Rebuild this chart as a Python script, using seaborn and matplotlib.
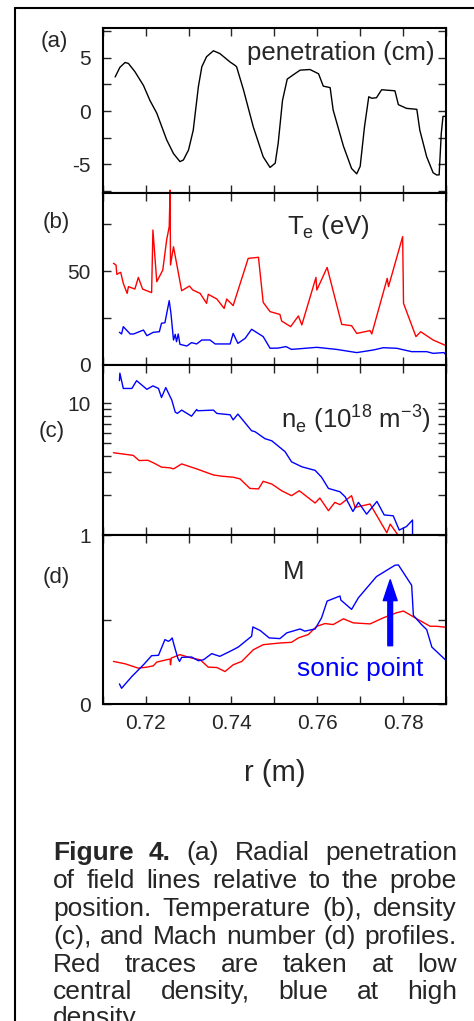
import numpy as np
import pandas as pd
import matplotlib
matplotlib.use('Agg')
import matplotlib.pyplot as plt
import seaborn as sns
from matplotlib.lines import Line2D
from matplotlib.ticker import MultipleLocator, LogLocator, NullFormatter

# ---- data ----
# (a) field line penetration (cm)
pen_r = [0.7129, 0.7140, 0.7152, 0.7160, 0.7175, 0.7195, 0.7210, 0.7226, 0.7249, 0.7265,
         0.7280, 0.7288, 0.7300, 0.7311, 0.7323, 0.7331, 0.7342, 0.7358, 0.7373, 0.7397,
         0.7408, 0.7412, 0.7428, 0.7451, 0.7474, 0.7490, 0.7502, 0.7509, 0.7519, 0.7530,
         0.7544, 0.7560, 0.7583, 0.7603, 0.7614, 0.7630, 0.7637, 0.7661, 0.7680, 0.7692,
         0.7700, 0.7710, 0.7720, 0.7727, 0.7738, 0.7750, 0.7781, 0.7789, 0.7808, 0.7832,
         0.7839, 0.7855, 0.7870, 0.7878, 0.7884, 0.7889, 0.7893, 0.7900]
pen_cm = [3.2, 4.1, 4.56, 4.47, 3.7, 2.4, 1.0, -0.2, -2.7, -4.0,
          -4.75, -4.6, -3.66, -1.8, 2.3, 4.16, 5.1, 5.66, 5.4, 4.6,
          4.3, 4.16, 2.0, -1.5, -4.3, -5.3, -4.9, -3.0, 1.0, 3.0,
          3.4, 3.84, 3.9, 3.5, 2.34, 2.2, 0.1, -3.3, -5.4, -5.9,
          -5.2, -1.5, 1.34, 1.2, 1.25, 2.0, 1.9, 0.6, 0.25, 0.16,
          -1.8, -4.3, -5.8, -6.0, -6.0, -2.1, -0.5, -0.5]

# (b) electron temperature (eV)
te_low_r = [0.7125, 0.7131, 0.7133, 0.7137, 0.7142, 0.7148, 0.7157, 0.7160, 0.7175, 0.7183,
            0.7193, 0.7214, 0.7217, 0.7226, 0.7240, 0.7249, 0.7255, 0.7257, 0.7258, 0.7265,
            0.7284, 0.7302, 0.7310, 0.7327, 0.7342, 0.7346, 0.7366, 0.7383, 0.7389, 0.7404,
            0.7439, 0.7463, 0.7474, 0.7490, 0.7513, 0.7517, 0.7538, 0.7556, 0.7564, 0.7597,
            0.7599, 0.7623, 0.7657, 0.7680, 0.7692, 0.7723, 0.7727, 0.7763, 0.7766, 0.7799,
            0.7801, 0.7830, 0.7841, 0.7870, 0.7900]
te_low = [54.1, 53.2, 48.2, 48.8, 49.3, 43.4, 38.1, 41.7, 40.4, 46.6,
          40.4, 38.5, 71.8, 44.3, 50.5, 66.5, 73.6, 93.0, 53.2, 62.9,
          39.5, 42.0, 39.9, 38.1, 32.8, 37.6, 35.1, 30.1, 35.1, 31.6,
          56.7, 57.3, 33.3, 28.4, 26.9, 23.4, 20.4, 26.1, 21.3, 46.6,
          39.9, 51.9, 21.6, 20.9, 16.8, 18.3, 16.5, 46.1, 41.7, 68.3,
          32.8, 15.1, 17.7, 13.3, 10.3]
te_high_r = [0.7139, 0.7144, 0.7148, 0.7164, 0.7172, 0.7195, 0.7203, 0.7218, 0.7232, 0.7237,
             0.7245, 0.7255, 0.7259, 0.7265, 0.7269, 0.7272, 0.7276, 0.7280, 0.7296, 0.7307,
             0.7319, 0.7331, 0.7350, 0.7362, 0.7397, 0.7404, 0.7415, 0.7432, 0.7447, 0.7474,
             0.7490, 0.7509, 0.7527, 0.7540, 0.7599, 0.7645, 0.7692, 0.7731, 0.7754, 0.7785,
             0.7820, 0.7855, 0.7870, 0.7895, 0.7900]
te_high = [17.4, 16.5, 20.4, 16.5, 16.5, 18.6, 15.6, 17.4, 17.7, 22.2,
           22.5, 34.2, 27.5, 13.3, 16.3, 12.4, 16.5, 11.0, 10.1, 11.9,
           11.2, 13.3, 13.3, 11.2, 11.2, 16.8, 11.5, 14.2, 19.0, 15.1,
           8.9, 9.0, 9.8, 8.3, 9.4, 8.3, 6.6, 8.0, 9.2, 8.9,
           7.1, 7.1, 6.2, 6.6, 5.4]

# (c) electron density (1e18 m^-3)
ne_high_r = [0.7139, 0.7140, 0.7148, 0.7168, 0.7179, 0.7203, 0.7217, 0.7230, 0.7237, 0.7247,
             0.7261, 0.7269, 0.7274, 0.7284, 0.7307, 0.7319, 0.7321, 0.7358, 0.7366, 0.7397,
             0.7404, 0.7415, 0.7447, 0.7455, 0.7478, 0.7494, 0.7525, 0.7529, 0.7540, 0.7564,
             0.7595, 0.7610, 0.7626, 0.7653, 0.7665, 0.7683, 0.7696, 0.7715, 0.7739, 0.7756,
             0.7777, 0.7791, 0.7808, 0.7822, 0.7822]
ne_high = [14.9, 17.0, 13.0, 13.0, 14.9, 12.8, 13.6, 13.0, 11.1, 13.2,
           10.6, 8.6, 8.4, 8.9, 8.0, 9.0, 8.8, 8.9, 8.4, 8.2,
           7.5, 8.3, 6.2, 6.1, 5.4, 5.2, 4.3, 4.1, 3.6, 3.3,
           3.1, 2.75, 2.26, 2.13, 1.95, 1.51, 1.77, 1.44, 1.80, 1.42,
           1.40, 1.09, 1.16, 1.30, 0.93]
ne_low_r = [0.7125, 0.7171, 0.7185, 0.7205, 0.7218, 0.7237, 0.7257, 0.7265, 0.7284, 0.7319,
            0.7358, 0.7377, 0.7404, 0.7420, 0.7443, 0.7463, 0.7474, 0.7494, 0.7517, 0.7540,
            0.7558, 0.7595, 0.7606, 0.7626, 0.7641, 0.7653, 0.7680, 0.7688, 0.7723, 0.7762,
            0.7770, 0.7795]
ne_low = [4.22, 4.03, 3.68, 3.70, 3.54, 3.28, 3.24, 3.18, 3.47, 3.18,
          2.86, 2.80, 2.75, 2.67, 2.26, 2.24, 2.56, 2.44, 2.17, 1.99,
          2.17, 1.75, 1.91, 1.53, 1.77, 1.70, 1.99, 1.62, 1.72, 1.04,
          1.21, 0.93]

# (d) Mach number
m_high_r = [0.7139, 0.7144, 0.7168, 0.7195, 0.7214, 0.7230, 0.7245, 0.7253, 0.7257, 0.7262,
            0.7266, 0.7275, 0.7279, 0.7284, 0.7307, 0.7323, 0.7335, 0.7354, 0.7373, 0.7401,
            0.7416, 0.7447, 0.7450, 0.7467, 0.7488, 0.7513, 0.7529, 0.7560, 0.7571, 0.7595,
            0.7610, 0.7623, 0.7653, 0.7655, 0.7680, 0.7696, 0.7738, 0.7781, 0.7789, 0.7820,
            0.7824, 0.7843, 0.7855, 0.7867, 0.7900]
m_high = [0.119, 0.093, 0.163, 0.232, 0.286, 0.288, 0.381, 0.371, 0.377, 0.391,
          0.351, 0.272, 0.252, 0.276, 0.278, 0.256, 0.262, 0.298, 0.282, 0.317,
          0.337, 0.401, 0.456, 0.435, 0.391, 0.387, 0.421, 0.444, 0.431, 0.444,
          0.510, 0.609, 0.639, 0.615, 0.560, 0.629, 0.754, 0.821, 0.823, 0.702,
          0.524, 0.470, 0.440, 0.337, 0.258]
m_low_r = [0.7125, 0.7152, 0.7183, 0.7203, 0.7218, 0.7226, 0.7249, 0.7257, 0.7258, 0.7260,
           0.7280, 0.7307, 0.7327, 0.7346, 0.7366, 0.7385, 0.7404, 0.7424, 0.7451, 0.7474,
           0.7513, 0.7540, 0.7556, 0.7579, 0.7599, 0.7618, 0.7637, 0.7661, 0.7684, 0.7723,
           0.7754, 0.7785, 0.7801, 0.7832, 0.7863, 0.7878, 0.7900]
m_low = [0.252, 0.238, 0.212, 0.218, 0.226, 0.248, 0.262, 0.266, 0.232, 0.272,
         0.292, 0.272, 0.262, 0.218, 0.216, 0.192, 0.232, 0.252, 0.321, 0.351,
         0.361, 0.365, 0.391, 0.411, 0.460, 0.476, 0.470, 0.504, 0.480, 0.474,
         0.510, 0.540, 0.550, 0.504, 0.460, 0.460, 0.454]

# sonic point arrow (r, M from -> to)
sonic_r = 0.7770
sonic_m = [0.345, 0.735]

caption_lines = [
    "Figure 4. (a) Radial penetration",
    "of field lines relative to the probe",
    "position. Temperature (b), density",
    "(c), and Mach number (d) profiles.",
    "Red traces are taken at low",
    "central density, blue at high",
    "density.",
]

RED = '#ff0000'
BLUE = '#0000ff'
W, H = 474, 1021


def style_axis(ax):
    ax.set_xlim(0.71, 0.79)
    ax.xaxis.set_major_locator(MultipleLocator(0.02))
    ax.xaxis.set_minor_locator(MultipleLocator(0.01))
    ax.tick_params(which='both', direction='in', top=True, right=True,
                   length=5.5, width=1.0, labelsize=15, pad=8.5)
    ax.tick_params(axis='x', which='both', pad=7)
    for s in ax.spines.values():
        s.set_linewidth(1.5)
        s.set_color('black')
    ax.set_xlabel('')
    ax.set_ylabel('')


def add_justified(fig, lines, x0, x1, baselines, size):
    renderer = fig.canvas.get_renderer()
    for k, (line, yb) in enumerate(zip(lines, baselines)):
        y = 1 - yb / H
        if k == len(lines) - 1:
            fig.text(x0, y, line, fontsize=size, va='baseline', ha='left')
            continue
        words = line.split(' ')
        texts = []
        for i, w in enumerate(words):
            bold = (k == 0 and i < 2)
            texts.append(fig.text(x0, y, w, fontsize=size, va='baseline', ha='left',
                                  fontweight='bold' if bold else 'normal'))
        widths = [t.get_window_extent(renderer).width / W for t in texts]
        gap = (x1 - x0 - sum(widths)) / (len(words) - 1)
        x = x0
        for t, wd in zip(texts, widths):
            t.set_x(x)
            x += wd + gap


sns.set_theme(style='ticks')
plt.rcParams['font.family'] = ['Liberation Sans', 'DejaVu Sans']
plt.rcParams['mathtext.fontset'] = 'custom'
plt.rcParams['mathtext.rm'] = 'Liberation Sans'
plt.rcParams['axes.unicode_minus'] = False

fig = plt.figure(figsize=(W / 100, H / 100), dpi=100)
gs = fig.add_gridspec(4, 1, height_ratios=[165, 172, 170, 169], hspace=0,
                      left=102.7 / W, right=446 / W, top=1 - 28 / H, bottom=1 - 704 / H)
ax_a = fig.add_subplot(gs[0])
ax_b = fig.add_subplot(gs[1], sharex=ax_a)
ax_c = fig.add_subplot(gs[2], sharex=ax_a)
ax_d = fig.add_subplot(gs[3], sharex=ax_a)

# (a)
sns.lineplot(x=pen_r, y=pen_cm, ax=ax_a, color='black', lw=1.0, sort=False, estimator=None)
ax_a.set_ylim(-7.7, 7.8)
ax_a.set_yticks([-5, 0, 5])
ax_a.set_yticks([-7.5, -2.5, 2.5, 7.5], minor=True)
ax_a.text(0.968, 0.85, 'penetration (cm)', transform=ax_a.transAxes,
          ha='right', va='center', fontsize=18.5)

# (b)
sns.lineplot(x=te_low_r, y=te_low, ax=ax_b, color=RED, lw=1.0, sort=False, estimator=None)
sns.lineplot(x=te_high_r, y=te_high, ax=ax_b, color=BLUE, lw=1.0, sort=False, estimator=None)
ax_b.lines[0].set_clip_on(False)
ax_b.set_ylim(0, 91.5)
ax_b.set_yticks([0, 50])
ax_b.set_yticks([25, 75], minor=True)
ax_b.text(0.658, 0.80, r'T$_\mathregular{e}$ (eV)', transform=ax_b.transAxes,
          ha='center', va='center', fontsize=18.5)

# (c)
sns.lineplot(x=ne_low_r, y=ne_low, ax=ax_c, color=RED, lw=1.0, sort=False, estimator=None)
sns.lineplot(x=ne_high_r, y=ne_high, ax=ax_c, color=BLUE, lw=1.0, sort=False, estimator=None)
ax_c.set_yscale('log')
ax_c.set_ylim(1, 19.6)
ax_c.set_yticks([1, 10], labels=['1', '10'])
ax_c.yaxis.set_minor_locator(LogLocator(base=10, subs=np.arange(2, 10)))
ax_c.yaxis.set_minor_formatter(NullFormatter())
ax_c.text(0.738, 0.685, r'n$_\mathregular{e}$ (10$^\mathregular{18}$ m$^\mathregular{-3}$)',
          transform=ax_c.transAxes, ha='center', va='center', fontsize=18.5)

# (d)
sns.lineplot(x=m_low_r, y=m_low, ax=ax_d, color=RED, lw=1.0, sort=False, estimator=None)
sns.lineplot(x=m_high_r, y=m_high, ax=ax_d, color=BLUE, lw=1.0, sort=False, estimator=None)
ax_d.set_ylim(0, 1.0)
ax_d.set_yticks([0, 1], labels=['0', ''])
ax_d.set_yticks([0.5], minor=True)
ax_d.text(0.555, 0.78, 'M', transform=ax_d.transAxes, ha='center', va='center', fontsize=18.5)
ax_d.annotate('', xy=(sonic_r, sonic_m[1]), xytext=(sonic_r, sonic_m[0]),
              arrowprops=dict(facecolor=BLUE, edgecolor=BLUE, width=3.4,
                              headwidth=10, headlength=15, shrink=0))
ax_d.text(0.7700, 0.205, 'sonic point', color=BLUE, fontsize=19, ha='center', va='center')

for ax in (ax_a, ax_b, ax_c, ax_d):
    style_axis(ax)
for ax in (ax_a, ax_b, ax_c):
    ax.tick_params(axis='x', labelbottom=False)
ax_d.set_xticks([0.72, 0.74, 0.76, 0.78], labels=['0.72', '0.74', '0.76', '0.78'])
ax_d.set_xlabel('r (m)', fontsize=21)
ax_d.xaxis.set_label_coords(0.5, -(773 - 704) / 169)
ax_d.xaxis.label.set_va('center')

# panel letters
for lab, (px, py) in zip(['(a)', '(b)', '(c)', '(d)'],
                         [(54, 42), (56, 222), (52, 431), (56, 577)]):
    fig.text(px / W, 1 - py / H, lab, fontsize=16, ha='center', va='center')

# frame around figure + caption
fig.add_artist(Line2D([15 / W, 15 / W], [0, 1 - 8 / H], transform=fig.transFigure,
                      color='black', lw=1.5))
fig.add_artist(Line2D([15 / W, 1], [1 - 8 / H, 1 - 8 / H], transform=fig.transFigure,
                      color='black', lw=1.5))

add_justified(fig, caption_lines, 53 / W, 457 / W,
              [860, 888, 916, 944, 971.5, 999, 1025], 19)

fig.savefig('out.png', dpi=100)
plt.close(fig)
